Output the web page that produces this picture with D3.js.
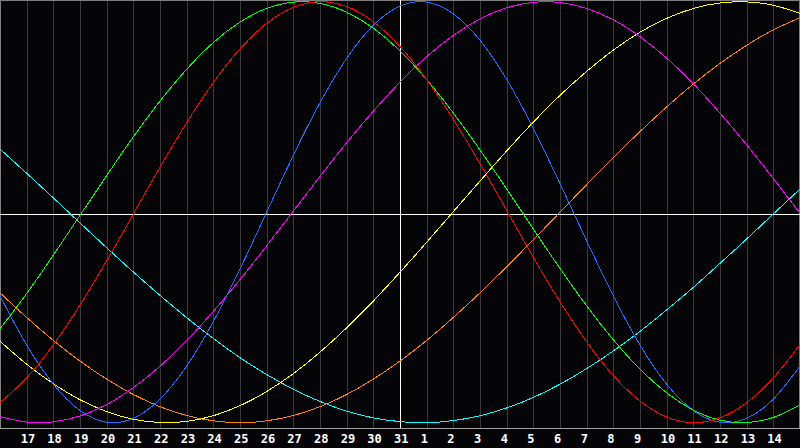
<!DOCTYPE html>
<html>
<head>
<meta charset="utf-8">
<script src="https://cdn.jsdelivr.net/npm/d3@7"></script>
<style>
  html, body { margin: 0; padding: 0; background: #050507; }
  svg { display: block; }
</style>
</head>
<body>
<div id="chart"></div>
<script>
// Day slots 0..30 (slot 0 = 16th, slot 30 = 15th; only 1..29 are labelled)
const days = d3.range(0, 31);
const dayLabels = ["17","18","19","20","21","22","23","24","25","26","27","28","29","30","31",
                   "1","2","3","4","5","6","7","8","9","10","11","12","13","14"];
const todayIndex = 15;

// Values at each day slot (range -1..1)
const physical = [-0.398,-0.631,-0.817,-0.942,-0.998,-0.979,-0.888,-0.731,-0.520,-0.270,0.000,
  0.270,0.520,0.731,0.888,0.979,0.998,0.942,0.817,0.631,0.398,0.136,-0.136,-0.398,-0.631,
  -0.817,-0.942,-0.998,-0.979,-0.888,-0.731];
const emotional = [-0.905,-0.787,-0.630,-0.441,-0.231,-0.009,0.214,0.425,0.616,0.776,0.897,
  0.973,1.000,0.977,0.905,0.787,0.630,0.441,0.231,0.009,-0.214,-0.425,-0.616,-0.776,-0.897,
  -0.973,-1.000,-0.977,-0.905,-0.787,-0.630];
const intellectual = [-0.554,-0.386,-0.204,-0.015,0.174,0.358,0.528,0.679,0.806,0.903,0.968,
  0.998,0.992,0.950,0.874,0.766,0.630,0.471,0.296,0.110,-0.080,-0.267,-0.445,-0.606,-0.746,
  -0.858,-0.940,-0.988,-0.999,-0.975,-0.916];
const intuitive = [-0.971,-0.997,-0.996,-0.968,-0.914,-0.834,-0.732,-0.610,-0.471,-0.320,-0.160,
  0.005,0.170,0.330,0.480,0.618,0.739,0.840,0.918,0.971,0.997,0.996,0.968,0.914,0.834,
  0.732,0.610,0.471,0.320,0.160,-0.005];
const aesthetic = [-0.613,-0.722,-0.815,-0.891,-0.947,-0.984,-0.999,-0.994,-0.967,-0.919,-0.852,
  -0.767,-0.665,-0.549,-0.422,-0.285,-0.143,0.003,0.148,0.291,0.428,0.555,0.669,0.770,0.855,
  0.921,0.968,0.994,0.999,0.983,0.945];
const awareness = [-0.383,-0.500,-0.609,-0.707,-0.793,-0.866,-0.924,-0.966,-0.991,-1.000,-0.991,
  -0.966,-0.924,-0.866,-0.793,-0.707,-0.609,-0.500,-0.383,-0.259,-0.131,0.000,0.131,0.259,0.383,
  0.500,0.609,0.707,0.793,0.866,0.924];
const spiritual = [0.300,0.185,0.068,-0.051,-0.169,-0.284,-0.395,-0.501,-0.600,-0.691,-0.771,
  -0.841,-0.899,-0.945,-0.977,-0.995,-1.000,-0.990,-0.967,-0.930,-0.880,-0.817,-0.743,-0.659,-0.566,
  -0.464,-0.357,-0.243,-0.127,-0.008,0.110];

const seriesNames  = ["spiritual","awareness","aesthetic","intuitive","physical","intellectual","emotional"];
const seriesValues = [spiritual, awareness, aesthetic, intuitive, physical, intellectual, emotional];
const seriesColors = ["#00ffff","#ff8000","#ffff00","#ff00ff","#1e6cff","#00ff00","#ff0000"];

const W = 800, H = 448, plotH = 428;

const svg = d3.select("#chart").append("svg")
  .attr("width", W).attr("height", H)
  .style("background", "#050507");

const x = d3.scaleLinear().domain([0, 30]).range([0, W]);
const y = d3.scaleLinear().domain([-1, 1]).range([422.7, 1.7]);

// vertical day grid
svg.append("g").selectAll("line")
  .data(d3.range(1, 30))
  .join("line")
  .attr("x1", d => Math.round(x(d)) + 0.5).attr("x2", d => Math.round(x(d)) + 0.5)
  .attr("y1", 0).attr("y2", plotH)
  .attr("stroke", "#3a3a3e").attr("stroke-width", 1)
  .attr("shape-rendering", "crispEdges");

// frame
svg.append("line").attr("x1", 0).attr("x2", W).attr("y1", 0.5).attr("y2", 0.5)
  .attr("stroke", "#808080").attr("shape-rendering", "crispEdges");
svg.append("line").attr("x1", 0.5).attr("x2", 0.5).attr("y1", 0).attr("y2", plotH)
  .attr("stroke", "#808080").attr("shape-rendering", "crispEdges");
svg.append("line").attr("x1", W - 0.5).attr("x2", W - 0.5).attr("y1", 0).attr("y2", plotH)
  .attr("stroke", "#808080").attr("shape-rendering", "crispEdges");
svg.append("line").attr("x1", 0).attr("x2", W).attr("y1", plotH + 0.5).attr("y2", plotH + 0.5)
  .attr("stroke", "#a0a0a0").attr("shape-rendering", "crispEdges");

// centre line and today line
svg.append("line").attr("x1", 0).attr("x2", W).attr("y1", plotH / 2 + 0.5).attr("y2", plotH / 2 + 0.5)
  .attr("stroke", "#ffffff").attr("shape-rendering", "crispEdges");
svg.append("line")
  .attr("x1", Math.round(x(todayIndex)) + 0.5).attr("x2", Math.round(x(todayIndex)) + 0.5)
  .attr("y1", 0).attr("y2", plotH)
  .attr("stroke", "#ffffff").attr("shape-rendering", "crispEdges");

// curves
const line = d3.line()
  .x((d, i) => x(days[i]))
  .y(d => y(d))
  .curve(d3.curveNatural);

svg.append("g").selectAll("path")
  .data(seriesValues)
  .join("path")
  .attr("d", d => line(d))
  .attr("fill", "none")
  .attr("stroke", (d, i) => seriesColors[i])
  .attr("stroke-width", 1)
  .attr("shape-rendering", "crispEdges");

// day labels
svg.append("g").selectAll("text")
  .data(dayLabels)
  .join("text")
  .attr("x", (d, i) => x(i + 1) - 6)
  .attr("y", 443)
  .attr("fill", "#ffffff")
  .attr("font-family", "'DejaVu Sans Mono', monospace")
  .attr("font-weight", "bold")
  .attr("font-size", "12px")
  .text(d => d);
</script>
</body>
</html>
